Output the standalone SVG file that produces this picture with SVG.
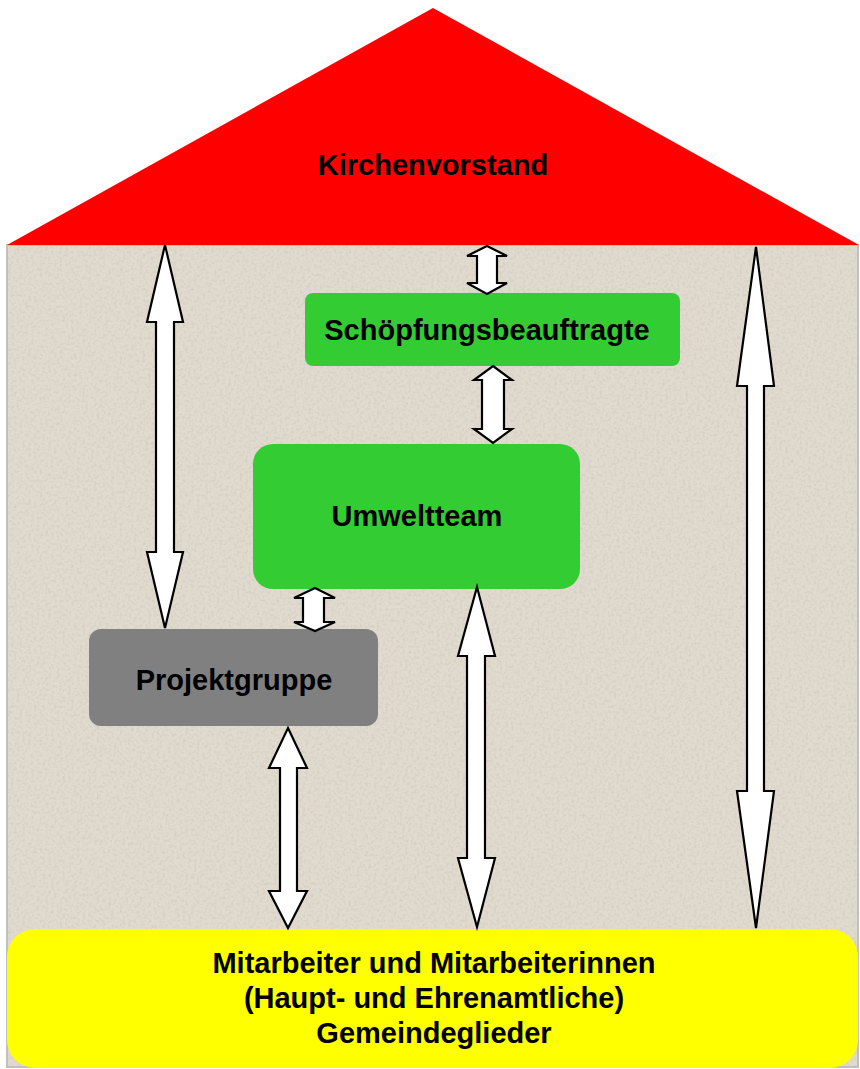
<svg xmlns="http://www.w3.org/2000/svg" width="860" height="1069" viewBox="0 0 860 1069">
<defs>
<style>
.lbl{font-family:"Liberation Sans",Arial,sans-serif;font-weight:bold;font-size:29px;fill:#000;text-anchor:middle}
.arr{fill:#fff;stroke:#000;stroke-width:2.2;stroke-linejoin:miter}
</style>
<filter id="tex" x="0" y="0" width="100%" height="100%">
<feTurbulence type="fractalNoise" baseFrequency="0.35" numOctaves="3" seed="4" result="n"/>
<feColorMatrix in="n" type="matrix" values="0 0 0 0 0.5  0 0 0 0 0.47  0 0 0 0 0.42  0 0 0 -2.2 1.25" result="c"/>
<feComposite in="c" in2="SourceGraphic" operator="in"/>
</filter>
</defs>
<rect width="860" height="1069" fill="#fff"/>
<g id="wall">
<rect x="7" y="245" width="851" height="822" fill="#E1DACE" stroke="#C0C0C0" stroke-width="2"/>
<rect x="8" y="246" width="849" height="820" fill="#E1DACE" filter="url(#tex)" opacity="0.35"/>
</g>
<g id="kirchenvorstand">
<polygon points="7,245 433,8 859,245" fill="#FF0000"/>
<text class="lbl" x="433" y="175">Kirchenvorstand</text>
</g>
<g id="schoepfungsbeauftragte">
<rect x="305" y="293" width="375" height="73" rx="8" fill="#33CC33"/>
<text class="lbl" x="487" y="340">Schöpfungsbeauftragte</text>
</g>
<g id="umweltteam">
<rect x="253" y="444" width="327" height="145" rx="20" fill="#33CC33"/>
<text class="lbl" x="417" y="526">Umweltteam</text>
</g>
<g id="projektgruppe">
<rect x="89" y="629" width="289" height="97" rx="12" fill="#808080"/>
<text class="lbl" x="234" y="690">Projektgruppe</text>
</g>
<g id="mitarbeiter">
<rect x="7" y="929" width="851" height="139" rx="28" fill="#FFFF00"/>
<text class="lbl" x="434" y="973">Mitarbeiter und Mitarbeiterinnen</text>
<text class="lbl" x="434" y="1008">(Haupt- und Ehrenamtliche)</text>
<text class="lbl" x="434" y="1043">Gemeindeglieder</text>
</g>
<g id="connectors">
<polygon class="arr" points="165,245 183,322 174,322 174,552 183,552 165,628 147,552 156,552 156,322 147,322"/>
<polygon class="arr" points="487,246 507,256 497,256 497,283 507,283 487,294 467,283 477,283 477,256 467,256"/>
<polygon class="arr" points="493,366 512,380 504,380 504,429 512,429 493,443 474,429 482,429 482,380 474,380"/>
<polygon class="arr" points="315,588 335,598 324,598 324,622 335,622 315,631 294,622 303,622 303,598 294,598"/>
<polygon class="arr" points="288,728 307,768 297,768 297,891 307,891 288,928 269,891 280,891 280,768 269,768"/>
<polygon class="arr" points="477,587 495,656 485,656 485,858 495,858 477,927 458,858 467,858 467,656 458,656"/>
<polygon class="arr" points="756,247 774,386 764,386 764,791 774,791 756,928 737,791 747,791 747,386 737,386"/>
</g>
</svg>
